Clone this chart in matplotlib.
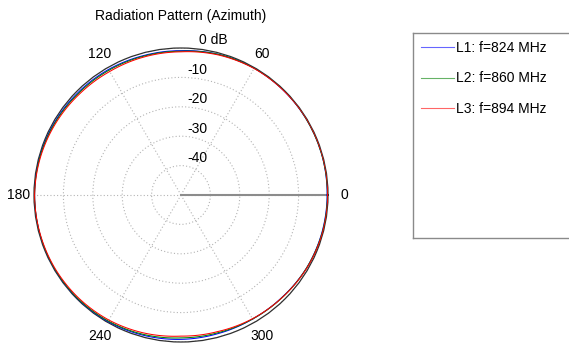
import numpy as np
import matplotlib
matplotlib.use("Agg")
import matplotlib.pyplot as plt
from matplotlib.lines import Line2D
from matplotlib.transforms import ScaledTranslation

plt.rcParams["font.family"] = ["Liberation Sans", "DejaVu Sans"]
plt.rcParams["font.size"] = 10

# azimuth samples (deg) and gain (dB) for each frequency
azimuth_deg = np.arange(0, 360, 15)
gain_824 = [-0.3, -0.2, -0.2, -0.2, -0.2, -0.5, -0.9, -0.9, -0.7, -0.6, -0.4, -0.2,
            -0.2, -0.2, -0.1, -0.1, -0.3, -0.6, -0.9, -1.2, -1.3, -1.1, -0.6, -0.4]
gain_860 = [-0.2, -0.2, -0.2, -0.1, -0.2, -0.5, -1.1, -1.1, -1.0, -0.9, -0.6, -0.3,
            -0.2, -0.2, -0.2, -0.3, -0.5, -0.9, -1.4, -1.5, -1.3, -1.0, -0.6, -0.3]
gain_894 = [-0.1, -0.1, -0.1, -0.2, -0.3, -0.7, -1.3, -1.4, -1.5, -1.3, -0.9, -0.5,
            -0.2, -0.3, -0.4, -0.6, -0.9, -1.4, -2.0, -1.9, -1.4, -1.0, -0.5, -0.2]
series_labels = ["L1: f=824 MHz", "L2: f=860 MHz", "L3: f=894 MHz"]
series_colors = ["#0000ff", "#008000", "#ff0000"]

ring_db = [-40, -30, -20, -10, 0]
ring_labels = ["-40", "-30", "-20", "-10", "0 dB"]
angle_ticks = [0, 60, 120, 180, 240, 300]
r_min, r_max = -50, 0

fig = plt.figure(figsize=(5.69, 3.49), dpi=100)
ax = fig.add_axes([34 / 569, 7 / 349, 294 / 569, 294 / 349], projection="polar")

theta = np.deg2rad(np.append(azimuth_deg, 360))
for gains, color in zip([gain_824, gain_860, gain_894], series_colors):
    r = np.append(gains, gains[0])
    (line,) = ax.plot(theta, r, color=color, lw=0.75, zorder=3)
    # follow the polar arc between samples instead of straight chords
    line.get_path()._interpolation_steps = 24

ax.set_ylim(r_min, r_max)
ax.set_rticks(ring_db)
ax.set_yticklabels([])
ax.set_xticks(np.deg2rad(angle_ticks))
ax.set_xticklabels([])
ax.grid(True, color="#b4b4b4", lw=0.8, linestyle=(0, (1, 2)))
ax.spines["polar"].set_color("#303030")
ax.spines["polar"].set_linewidth(0.9)

# solid reference line along 0 deg
ax.plot([0, 0], [r_min, r_max], color="#8c8c8c", lw=1.5, zorder=2)

for a in angle_ticks:
    ax.text(np.deg2rad(a), 5.4, str(a), ha="center", va="center", clip_on=False)

for v, lab in zip(ring_db, ring_labels):
    dx = 32 / 100 if lab == "0 dB" else 16 / 100
    off = ScaledTranslation(dx, 7.5 / 100, fig.dpi_scale_trans)
    ax.text(np.pi / 2, v, lab, ha="center", va="center", transform=ax.transData + off)

fig.text(181 / 569, 1 - 16 / 349, "Radiation Pattern (Azimuth)", ha="center", va="center")

# legend panel
lax = fig.add_axes([412.7 / 569, 111 / 349, 190 / 569, 205.3 / 349])
lax.set_xticks([])
lax.set_yticks([])
for s in lax.spines.values():
    s.set_color("#8a8a8a")
    s.set_linewidth(1.0)
handles = [Line2D([], [], color=c, lw=0.8, alpha=0.6) for c in series_colors]
lax.legend(handles, series_labels, loc="upper left", bbox_to_anchor=(0.0, 1.0), frameon=False,
           handlelength=2.4, handletextpad=0.15, labelspacing=1.18, borderaxespad=0.2)

fig.savefig("out.png", dpi=100)
